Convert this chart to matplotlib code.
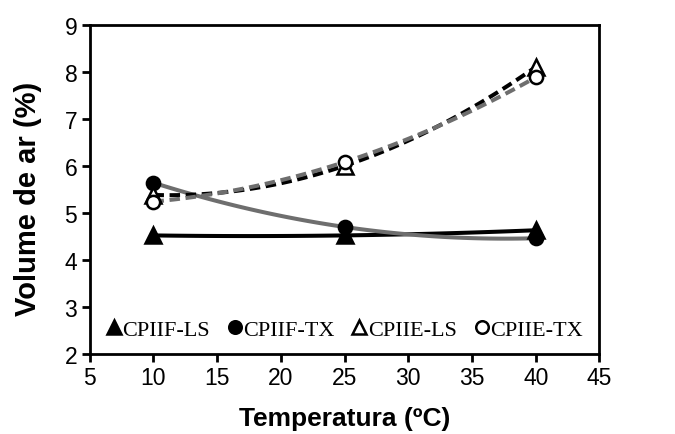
import numpy as np
import matplotlib
matplotlib.use('Agg')
from matplotlib import pyplot as plt

# temperatures (ºC) and air volume (%)
temps = [10, 25, 40]
cpiif_ls = [4.52, 4.52, 4.63]
cpiif_tx = [5.64, 4.70, 4.46]
cpiie_ls = [5.38, 6.00, 8.10]
cpiie_tx = [5.24, 6.08, 7.88]

series_names = ['CPIIF-LS', 'CPIIF-TX', 'CPIIE-LS', 'CPIIE-TX']

GRAY = '#6e6e6e'

fig = plt.figure(figsize=(6.75, 4.35), dpi=100)
ax = fig.add_axes([0.133, 0.184, 0.755, 0.757])

# polynomial trend lines (order 2) like the spreadsheet ones
xx = np.linspace(temps[0], temps[-1], 100)
styles = [
    (cpiif_ls, 'black', '-', '^', 'black', 11),
    (cpiif_tx, GRAY, '-', 'o', 'black', 9.5),
    (cpiie_ls, 'black', (0, (2.6, 1.4)), '^', 'white', 11),
    (cpiie_tx, GRAY, (0, (2.6, 1.4)), 'o', 'white', 9.5),
]
handles = []
for vals, col, ls, mk, face, ms in styles:
    coef = np.polyfit(temps, vals, 2)
    ax.plot(xx, np.polyval(coef, xx), color=col, linestyle=ls, lw=2.9, zorder=2)
    h, = ax.plot(temps, vals, linestyle='none', marker=mk, markersize=ms,
                 markerfacecolor=face, markeredgecolor='black', markeredgewidth=1.8, zorder=3)
    handles.append(h)

ax.set_xlim(5, 45)
ax.set_ylim(2, 9)
ax.set_xticks(range(5, 46, 5))
ax.set_yticks(range(2, 10))
for s in ax.spines.values():
    s.set_linewidth(2)
ax.tick_params(direction='out', length=6, width=2, labelsize=16.5, pad=3)
for lab in ax.get_xticklabels() + ax.get_yticklabels():
    lab.set_family('Liberation Sans')

ax.set_xlabel('Temperatura (ºC)', fontsize=19, fontweight='bold', family='Liberation Sans', labelpad=12)
ax.set_ylabel('Volume de ar (%)', fontsize=21, fontweight='bold', family='Liberation Sans')
ax.yaxis.set_label_coords(-0.094, 0.473)

ax.legend(handles, series_names, loc='lower center', ncol=4, frameon=False,
          prop={'family': 'Liberation Serif', 'size': 16}, handlelength=0.7,
          handletextpad=0.05, columnspacing=0.75, borderaxespad=0.25, markerscale=0.95)

fig.savefig('out.png', dpi=100)
